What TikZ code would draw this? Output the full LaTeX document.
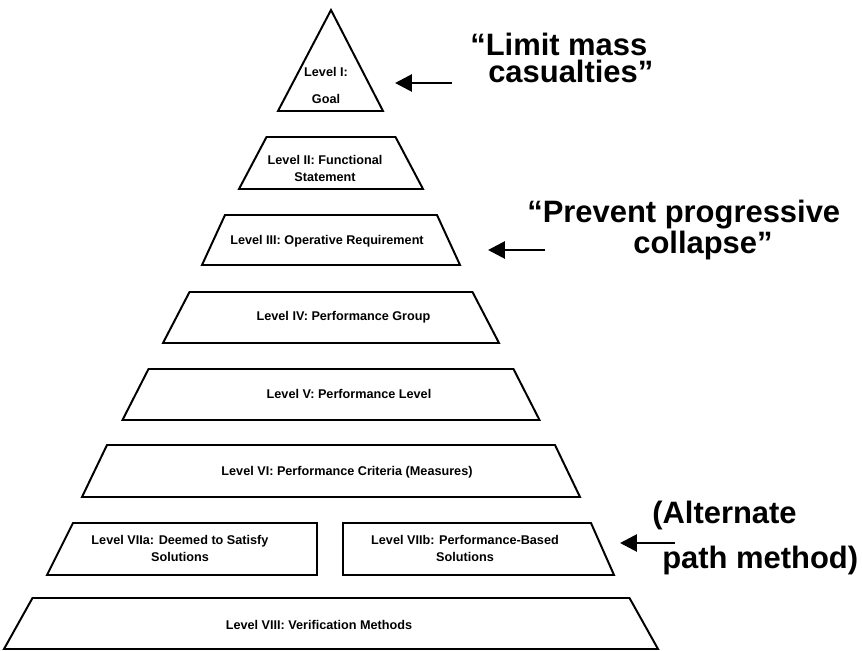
\documentclass[tikz,border=0pt]{standalone}
\usepackage{fontspec}
\setmainfont{Liberation Sans}
\usetikzlibrary{calc,positioning,arrows.meta}
\tikzset{
    level box/.style={
        draw,line width=1.4pt,line join=miter
    },
    level text/.style={
        font=\fontsize{9pt}{12pt}\selectfont\bfseries,
        align=center,inner sep=0pt
    },
    >={Triangle[length=0.42cm,width=0.42cm]},
    remark/.style={
        font=\fontsize{22pt}{19pt}\selectfont\bfseries,
        align=left,inner sep=0pt,anchor=base west
    },
}
\tikzstyle{pointer} = [line width=2pt,->]

\begin{document}
\begin{tikzpicture}[x=0.025cm,y=-0.025cm]
		\useasboundingbox (0,0) rectangle (862,651);
		% apex and the plain levels of the pyramid
		\draw[level box] (331,10) -- (383,111) -- (278,111) -- cycle;
		\foreach \yt/\yb/\wt/\wb in {137/189/64.5/92,215/265/106/129,292/343/141.5/168,369/420/182.5/208.5,445/497/224/249,598/649/298.5/327}
		\draw[level box] (331-\wt,\yt) -- (331+\wt,\yt) -- (331+\wb,\yb) -- (331-\wb,\yb) -- cycle;
		% split level
		\draw[level box] (73,523) -- (317,523) -- (317,575) -- (47,575) -- cycle;
		\draw[level box] (343,523) -- (591,523) -- (614,575) -- (343,575) -- cycle;

		\node[level text] (goal) at (326,85.5) {Level I:\\[7pt]Goal};
		\node[level text] (func) at (325,168.5) {Level II: Functional\\Statement};
		\node[level text] (oper) at (327,241) {Level III: Operative Requirement};
		\node[level text] (group) at (343.5,317) {Level IV: Performance Group};
		\node[level text] (perf) at (349,394) {Level V: Performance Level};
		\node[level text] (crit) at (347,472) {Level VI: Performance Criteria (Measures)};
		\node[level text] (deem) at (180,548.5) {Level VIIa: Deemed to Satisfy\\Solutions};
		\node[level text] (based) at (465,548.5) {Level VIIb: Performance-Based\\Solutions};
		\node[level text] (verif) at (319,625) {Level VIII: Verification Methods};

		% base anchor sits on the last line
		\node[remark] (limit) at (470,82) {“Limit mass\\\hspace*{0.45cm}casualties”};
		\node[remark] (prevent) at (527,253) {“Prevent progressive\\\hspace*{2.65cm}collapse”};
		\node[remark] (alter) at (652,568) {(Alternate\\[10pt]\hspace*{0.25cm}path method)};

		\coordinate (tipI) at (395,83);
		\coordinate (tipIII) at (488,250);
		\coordinate (tipVII) at (620,543);
		\draw[pointer] ([xshift=-0.45cm]limit.west |- tipI) -- (tipI);
		\draw[pointer] ([xshift=0.45cm]prevent.west |- tipIII) -- (tipIII);
		\draw[pointer] ([xshift=0.575cm]alter.west |- tipVII) -- (tipVII);
	\end{tikzpicture}
\end{document}
